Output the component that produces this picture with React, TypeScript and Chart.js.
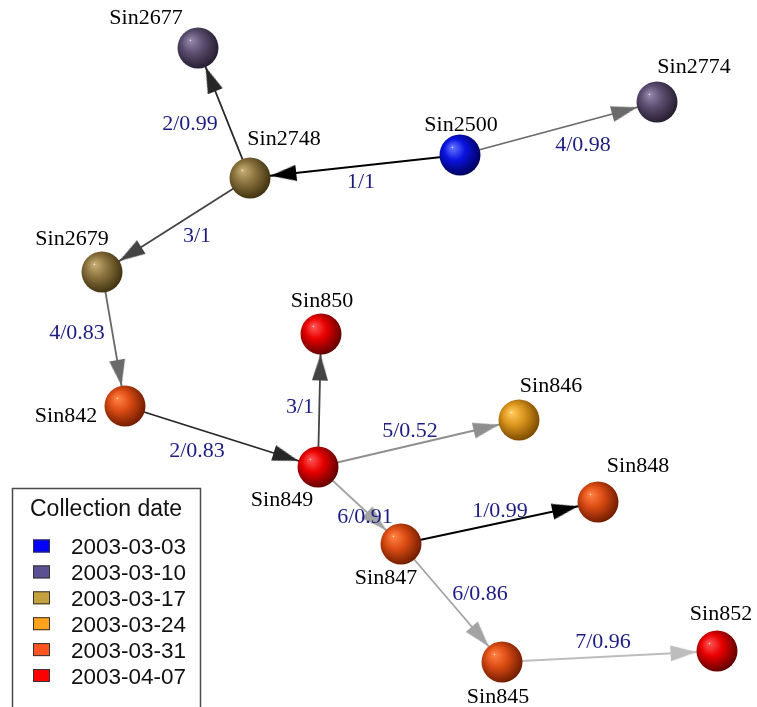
import { useEffect, useRef } from 'react';
import { Chart, registerables } from 'chart.js';

Chart.register(...registerables);

// ---------- data ----------
const collectionDates = ['2003-03-03', '2003-03-10', '2003-03-17', '2003-03-24', '2003-03-31', '2003-04-07'];

const nodeNames = ['Sin2677', 'Sin2774', 'Sin2500', 'Sin2748', 'Sin2679', 'Sin850', 'Sin846', 'Sin842', 'Sin849', 'Sin848', 'Sin847', 'Sin852', 'Sin845'];
const nodeX = [198, 657, 460, 250, 102, 321, 519, 125, 318, 598, 401, 717, 502];
const nodeY = [48, 102, 155, 178, 272, 334, 420, 406, 467, 502, 544, 651, 662];
const nodeDate = [1, 1, 0, 2, 2, 5, 3, 4, 5, 4, 4, 5, 4];

const edgeFrom = ['Sin2748', 'Sin2500', 'Sin2500', 'Sin2748', 'Sin2679', 'Sin849', 'Sin849', 'Sin842', 'Sin849', 'Sin847', 'Sin847', 'Sin845'];
const edgeTo = ['Sin2677', 'Sin2774', 'Sin2748', 'Sin2679', 'Sin842', 'Sin850', 'Sin846', 'Sin849', 'Sin847', 'Sin848', 'Sin845', 'Sin852'];
const edgeRank = [2, 4, 1, 3, 4, 3, 5, 2, 6, 1, 6, 7];
const edgeSupport = [0.99, 0.98, 1, 1, 0.83, 1, 0.52, 0.83, 0.91, 0.99, 0.86, 0.96];

// ---------- layout / style ----------
const NODE_R = 20.5;
const ARROW_W = 16;
const ARROW_L = 26;
const nodeLabelOffset: [number, number][] = [
  [-52, -24], [37, -29], [1, -24], [34, -33], [-30, -27], [1, -27], [32, -28],
  [-59, 16], [-36, 39], [40, -30], [-15, 40], [4, -31], [-4, 41],
];
const edgeLabelOffset: [number, number][] = [
  [-34, 17], [24.5, 22.5], [6, 21.5], [21, 17], [-36.5, 0], [-19.5, 12.5],
  [-8.5, -6.5], [-24.5, 20.5], [5.5, 17.5], [0.5, -6], [28.5, -3], [-6.5, -8.5],
];
const rankColor = ['#000000', '#262626', '#444444', '#6a6a6a', '#8f8f8f', '#a3a3a3', '#bdbdbd'];
const legendColor = ['#0000ff', '#5b5192', '#c4a03e', '#ffa31f', '#ff5421', '#ff0000'];
const spherePalette: [string, string, string][] = [
  ['#6070ff', '#0a14e0', '#00005a'],
  ['#9484a8', '#5c4f70', '#261d30'],
  ['#c2aa70', '#8c7440', '#40320f'],
  ['#ffc858', '#dc961e', '#7a4a00'],
  ['#ff8040', '#dc4c14', '#701c00'],
  ['#ff5050', '#e80000', '#600000'],
];
const SERIF = '"Liberation Serif", "DejaVu Serif", serif';
const SANS = '"Liberation Sans", Arial, sans-serif';

function idx(name: string) {
  return nodeNames.indexOf(name);
}

const arrowCache: Record<string, HTMLCanvasElement> = {};
function arrowImage(color: string) {
  if (arrowCache[color]) return arrowCache[color];
  const c = document.createElement('canvas');
  c.width = ARROW_W;
  c.height = ARROW_L;
  const g = c.getContext('2d')!;
  g.fillStyle = color;
  g.beginPath();
  g.moveTo(ARROW_W / 2, 0);
  g.lineTo(ARROW_W, ARROW_L);
  g.lineTo(0, ARROW_L);
  g.closePath();
  g.fill();
  arrowCache[color] = c;
  return c;
}

const labelPlugin = {
  id: 'networkLabels',
  afterDatasetsDraw(chart: any) {
    const ctx: CanvasRenderingContext2D = chart.ctx;
    const xs = chart.scales.x;
    const ys = chart.scales.y;
    ctx.save();
    ctx.textAlign = 'center';
    ctx.textBaseline = 'alphabetic';
    // node labels
    ctx.font = `22px ${SERIF}`;
    ctx.fillStyle = '#000000';
    nodeNames.forEach((n, i) => {
      const px = xs.getPixelForValue(nodeX[i]) + nodeLabelOffset[i][0];
      const py = ys.getPixelForValue(nodeY[i]) + nodeLabelOffset[i][1];
      ctx.fillText(n, px, py);
    });
    // edge labels
    ctx.fillStyle = '#1c1c82';
    edgeFrom.forEach((f, i) => {
      const a = idx(f);
      const b = idx(edgeTo[i]);
      const mx = (xs.getPixelForValue(nodeX[a]) + xs.getPixelForValue(nodeX[b])) / 2;
      const my = (ys.getPixelForValue(nodeY[a]) + ys.getPixelForValue(nodeY[b])) / 2;
      ctx.fillText(`${edgeRank[i]}/${edgeSupport[i]}`, mx + edgeLabelOffset[i][0], my + edgeLabelOffset[i][1]);
    });
    // legend
    ctx.strokeStyle = '#4a4a4a';
    ctx.lineWidth = 1.5;
    ctx.strokeRect(12.5, 488.5, 188, 240);
    ctx.textAlign = 'left';
    ctx.fillStyle = '#111111';
    ctx.font = `23px ${SANS}`;
    ctx.fillText('Collection date', 30, 516);
    ctx.font = `22.5px ${SANS}`;
    collectionDates.forEach((d, i) => {
      const cy = 546 + i * 25.9;
      ctx.fillStyle = legendColor[i];
      ctx.fillRect(33, cy - 6.5, 17, 13);
      ctx.strokeStyle = '#333333';
      ctx.lineWidth = 1;
      ctx.strokeRect(33.5, cy - 6, 16, 12);
      ctx.fillStyle = '#111111';
      ctx.fillText(d, 71, cy + 8);
    });
    ctx.restore();
  },
};

export default function App() {
  const ref = useRef<HTMLCanvasElement>(null);
  useEffect(() => {
    document.body.style.margin = '0';
    const canvas = ref.current!;
    const edgeDatasets = edgeFrom.map((f, i) => {
      const a = idx(f);
      const b = idx(edgeTo[i]);
      return {
        type: 'line' as const,
        data: [
          { x: nodeX[a], y: nodeY[a] },
          { x: nodeX[b], y: nodeY[b] },
        ],
        borderColor: rankColor[edgeRank[i] - 1],
        borderWidth: 1.8,
        pointRadius: 0,
        showLine: true,
        fill: false,
        order: 3,
      };
    });
    // arrowheads: placed at the target node's rim
    const arrowData = edgeFrom.map((f, i) => {
      const a = idx(f);
      const b = idx(edgeTo[i]);
      const dx = nodeX[b] - nodeX[a];
      const dy = nodeY[b] - nodeY[a];
      const len = Math.hypot(dx, dy);
      const back = NODE_R + ARROW_L / 2;
      return { x: nodeX[b] - (dx / len) * back, y: nodeY[b] - (dy / len) * back };
    });
    const arrowRotation = edgeFrom.map((f, i) => {
      const a = idx(f);
      const b = idx(edgeTo[i]);
      const dx = nodeX[b] - nodeX[a];
      const dy = nodeY[b] - nodeY[a];
      return (Math.atan2(dx, -dy) * 180) / Math.PI;
    });
    const arrowStyle = edgeRank.map((r) => arrowImage(rankColor[r - 1]));

    const chart = new Chart(canvas, {
      type: 'scatter',
      data: {
        datasets: [
          ...edgeDatasets,
          {
            type: 'scatter' as const,
            data: arrowData,
            pointStyle: arrowStyle as any,
            pointRotation: arrowRotation,
            pointRadius: 5,
            order: 2,
          } as any,
          {
            type: 'scatter' as const,
            data: nodeNames.map((n, i) => ({ x: nodeX[i], y: nodeY[i] })),
            pointRadius: NODE_R,
            pointHoverRadius: NODE_R,
            pointBorderWidth: 0,
            pointBorderColor: 'rgba(0,0,0,0)',
            pointBackgroundColor: (c: any) => {
              const i = typeof c.dataIndex === 'number' ? c.dataIndex : 0;
              const pal = spherePalette[nodeDate[i] ?? 0];
              const ch = c.chart;
              const xs = ch.scales && ch.scales.x;
              const ys = ch.scales && ch.scales.y;
              if (c.type !== 'data' || !xs || !ys) return pal[1];
              const cx = xs.getPixelForValue(nodeX[i]);
              const cy = ys.getPixelForValue(nodeY[i]);
              if (!isFinite(cx) || !isFinite(cy)) return pal[1];
              const r = NODE_R;
              const g = ch.ctx.createRadialGradient(cx - r * 0.38, cy - r * 0.38, 0, cx - r * 0.12, cy - r * 0.12, r * 1.15);
              g.addColorStop(0, '#ffffff');
              g.addColorStop(0.05, pal[0]);
              g.addColorStop(0.45, pal[1]);
              g.addColorStop(1, pal[2]);
              return g;
            },
            order: 1,
          } as any,
        ],
      },
      options: {
        animation: false,
        responsive: false,
        devicePixelRatio: 1,
        layout: { padding: 0, autoPadding: false },
        events: [],
        scales: {
          x: { type: 'linear', min: 0, max: 757, display: false },
          y: { type: 'linear', min: 0, max: 707, reverse: true, display: false },
        },
        plugins: {
          legend: { display: false },
          tooltip: { enabled: false },
        },
      },
      plugins: [labelPlugin],
    });
    return () => chart.destroy();
  }, []);

  return (
    <div style={{ position: 'fixed', left: 0, top: 0, width: 757, height: 707, background: '#ffffff' }}>
      <canvas ref={ref} width={757} height={707} style={{ display: 'block' }} />
    </div>
  );
}
